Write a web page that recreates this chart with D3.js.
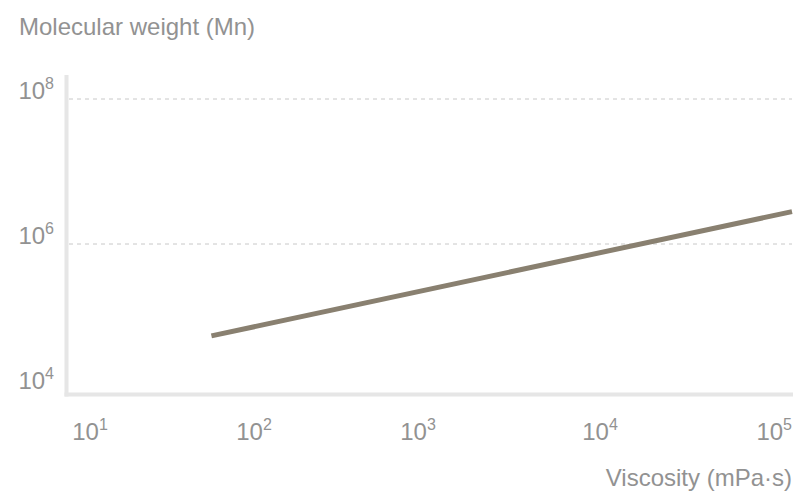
<!DOCTYPE html>
<html>
<head>
<meta charset="utf-8">
<script src="https://cdn.jsdelivr.net/npm/d3@7"></script>
<style>
  html, body { margin: 0; padding: 0; background: #fff; }
  svg { display: block; font-family: "Liberation Sans", Arial, Helvetica, sans-serif; }
</style>
</head>
<body>
<svg id="chart" width="797" height="492"></svg>
<script>
// ---- data ----
const xTickValues = [1e1, 1e2, 1e3, 1e4, 1e5];
const xTickExponents = ["1", "2", "3", "4", "5"];
const yTickValues = [1e4, 1e6, 1e8];
const yTickExponents = ["4", "6", "8"];
const gridValues = [1e6, 1e8];
const viscosity = [55, 100000];        // mPa·s
const molecularWeight = [54000, 2800000]; // Mn
const xTitle = "Viscosity (mPa·s)";
const yTitle = "Molecular weight (Mn)";

// ---- layout ----
const svg = d3.select("#chart");
const textColor = "#929292";
const fontSize = 24;

const x = d3.scaleLog()
  .domain(xTickValues)
  .range([90, 254, 418, 600, 792]);

const y = d3.scaleLog()
  .domain([1e4, 1e8])
  .range([389, 99]);

// gridlines
svg.append("g").selectAll("line")
  .data(gridValues)
  .join("line")
  .attr("x1", 69).attr("x2", 792)
  .attr("y1", d => y(d)).attr("y2", d => y(d))
  .attr("stroke", "#c8c8c8")
  .attr("stroke-width", 1)
  .attr("stroke-dasharray", "4,4");

// axis lines
svg.append("line")
  .attr("x1", 66.5).attr("x2", 66.5)
  .attr("y1", 75).attr("y2", 396.5)
  .attr("stroke", "#e6e6e6").attr("stroke-width", 4);
svg.append("line")
  .attr("x1", 64.5).attr("x2", 793)
  .attr("y1", 394.5).attr("y2", 394.5)
  .attr("stroke", "#e6e6e6").attr("stroke-width", 4);

// y tick labels
const yl = svg.append("g").selectAll("text")
  .data(yTickValues)
  .join("text")
  .attr("x", 54)
  .attr("y", d => y(d))
  .attr("text-anchor", "end")
  .attr("fill", textColor)
  .attr("font-size", fontSize);
yl.append("tspan").text("10");
yl.append("tspan")
  .attr("font-size", 16)
  .attr("dy", -10)
  .text((d, i) => yTickExponents[i]);

// x tick labels
const xl = svg.append("g").selectAll("text")
  .data(xTickValues)
  .join("text")
  .attr("x", d => x(d))
  .attr("y", 440)
  .attr("text-anchor", (d, i) => i === xTickValues.length - 1 ? "end" : "middle")
  .attr("fill", textColor)
  .attr("font-size", fontSize);
xl.append("tspan").text("10");
xl.append("tspan")
  .attr("font-size", 16)
  .attr("dy", -10)
  .text((d, i) => xTickExponents[i]);

// titles
svg.append("text")
  .attr("x", 19).attr("y", 35)
  .attr("fill", textColor)
  .attr("font-size", fontSize)
  .text(yTitle);
svg.append("text")
  .attr("x", 792).attr("y", 486)
  .attr("text-anchor", "end")
  .attr("fill", textColor)
  .attr("font-size", fontSize)
  .text(xTitle);

// line
const pts = viscosity.map((v, i) => [v, molecularWeight[i]]);
svg.append("path")
  .datum(pts)
  .attr("fill", "none")
  .attr("stroke", "#898070")
  .attr("stroke-width", 5)
  .attr("d", d3.line().x(d => x(d[0])).y(d => y(d[1])));
</script>
</body>
</html>
